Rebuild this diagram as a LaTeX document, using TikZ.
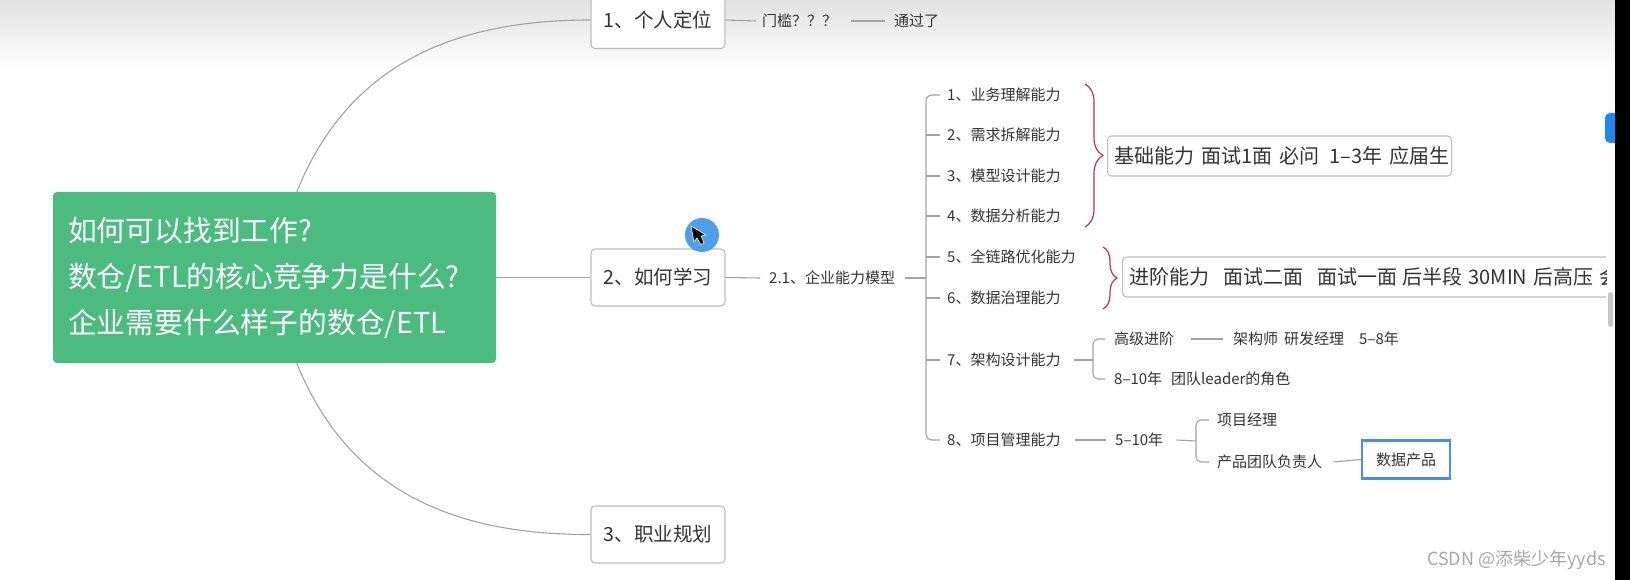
\documentclass[tikz,border=0pt]{standalone}
\usepackage{fontspec}
\setmainfont{Noto Sans CJK SC}
\usetikzlibrary{decorations.pathreplacing,calc}
\definecolor{txt}{HTML}{333333}
\definecolor{lnk}{HTML}{A3A3A3}
\definecolor{bord}{HTML}{BEBEBE}
\definecolor{rootg}{HTML}{4BBB80}
\definecolor{bracered}{HTML}{B3373C}
\definecolor{selb}{HTML}{4A90E2}
\definecolor{curb}{HTML}{4D9FEA}
\definecolor{btnb}{HTML}{1E88F0}
\definecolor{wm}{HTML}{A8A8A8}
\definecolor{topg}{HTML}{E2E2E2}
\begin{document}
\begin{tikzpicture}[x=1pt,y=-1pt,
  topic/.style={draw=bord, line width=1.1pt, fill=white, rounded corners=4pt,
    minimum width=134pt, minimum height=57pt, inner sep=0pt, text=txt,
    font=\fontsize{19.5}{23}\selectfont},
  lbl/.style={anchor=west, inner sep=0pt, text=txt, font=\fontsize{15}{18}\selectfont},
  conn/.style={draw=lnk, line width=1.1pt},
  braceline/.style={draw=bracered, line width=1.2pt, decorate},
  infobox/.style={draw=bord, line width=1.1pt, fill=white, rounded corners=4pt,
    anchor=west, minimum height=40pt, inner xsep=7pt, inner ysep=0pt, align=left,
    text=txt, font=\fontsize{20}{23}\selectfont}
]
\useasboundingbox (0,0) rectangle (1630,580);
\fill[white] (0,0) rectangle (1630,580);
\shade[top color=topg, bottom color=white] (0,0) rectangle (1630,70);

% main topics
\node[topic] (n1) at (658,20) {1、个人定位};
\node[topic] (n2) at (658,277.5) {2、如何学习};
\node[topic] (n3) at (658,534.5) {3、职业规划};
\node[fill=rootg, rounded corners=4pt, minimum width=443pt, minimum height=171pt,
  text width=413pt, align=left, inner xsep=15pt, inner ysep=0pt, text=white,
  font=\fontsize{28.8}{46}\selectfont] (root) at (274.5,277.5)
  {如何可以找到工作?\\数仓/ETL的核心竞争力是什么?\\企业需要什么样子的数仓/ETL};

\coordinate (rt) at ($(root.north west)+(244,0)$);
\coordinate (rb) at ($(root.south west)+(244,0)$);
\draw[conn] (rt) .. controls (350,60) and (460,20) .. (n1.west);
\draw[conn] (root.east) -- (n2.west);
\draw[conn] (rb) .. controls (350,495) and (460,535) .. (n3.west);

% topic 1
\node[lbl] (gate) at (762,21) {门槛？？？};
\node[lbl] (pass) at (894,21) {通过了};
\draw[conn] (n1.east) -- ($(gate.west)+(-6,0)$);
\draw[conn] ($(gate.east)+(14,0)$) -- ($(pass.west)+(-9,0)$);

% topic 2
\node[lbl] (m21) at (769,278) {2.1、企业能力模型};
\draw[conn] (n2.east) -- ($(m21.west)+(-9,0)$);
\coordinate (bk) at (926,278);
\draw[conn] ($(m21.east)+(10,0)$) -- (bk);

\node[lbl] (c1) at (947,95) {1、业务理解能力};
\node[lbl] (c2) at (947,135) {2、需求拆解能力};
\node[lbl] (c3) at (947,176) {3、模型设计能力};
\node[lbl] (c4) at (947,216) {4、数据分析能力};
\node[lbl] (c5) at (947,257) {5、全链路优化能力};
\node[lbl] (c6) at (947,298) {6、数据治理能力};
\node[lbl] (c7) at (947,360) {7、架构设计能力};
\node[lbl] (c8) at (947,440) {8、项目管理能力};
\draw[conn, rounded corners=6pt] ($(c1.west)+(-7,0)$) -- (bk |- c1.west) -- (bk |- c8.west) -- ($(c8.west)+(-7,0)$);
\foreach \c in {c2,c3,c4,c5,c6,c7}
  \draw[conn] (bk |- \c.west) -- ($(\c.west)+(-7,0)$);

% summaries
\node[infobox, text width=330pt] (b1) at (1107,156)
  {\mbox{基础能力\hspace{7pt}面试1面\hspace{7pt}必问\hspace{10pt}1–3年\hspace{7pt}应届生}};
\draw[braceline, decoration={brace, amplitude=18pt}] ($(b1.west)+(-22,-72)$) -- ($(b1.west)+(-22,71)$);

\begin{scope}
\clip (0,0) rectangle (1606,580);
\node[infobox, text width=540pt] (b2) at (1122,277)
  {\mbox{进阶能力\hspace{14pt}面试二面\hspace{14pt}面试一面\hspace{5pt}后半段\hspace{6pt}30MIN\hspace{6pt}后高压\hspace{6pt}会}};
\end{scope}
\draw[braceline, decoration={brace, amplitude=14pt}] ($(b2.west)+(-19,-30)$) -- ($(b2.west)+(-19,32)$);

% item 7
\node[lbl] (h1) at (1114,339) {高级进阶};
\node[lbl] (h2) at (1233,339) {架构师\hspace{6pt}研发经理\hspace{15pt}5–8年};
\node[lbl] (h3) at (1114,379) {8–10年\hspace{9pt}团队leader的角色};
\coordinate (bk7) at (1093,360);
\draw[conn] ($(c7.east)+(13,0)$) -- (bk7);
\draw[conn, rounded corners=5pt] ($(h1.west)+(-9,0)$) -- (bk7 |- h1.west) -- (bk7 |- h3.west) -- ($(h3.west)+(-9,0)$);
\draw[conn] ($(h1.east)+(17,0)$) -- ($(h2.west)+(-10,0)$);

% item 8
\node[lbl] (y5) at (1115,440) {5–10年};
\draw[conn] ($(c8.east)+(14,0)$) -- ($(y5.west)+(-9,0)$);
\coordinate (bk8) at (1196,441);
\draw[conn] ($(y5.east)+(13,0)$) -- (bk8);
\node[lbl] (pm) at (1217,420) {项目经理};
\node[lbl] (pt) at (1217,462) {产品团队负责人};
\draw[conn, rounded corners=5pt] ($(pm.west)+(-8,0)$) -- (bk8 |- pm.west) -- (bk8 |- pt.west) -- ($(pt.west)+(-8,0)$);
\node[draw=selb, line width=2.2pt, fill=white, minimum width=88pt, minimum height=38pt,
  inner sep=0pt, text=txt, font=\fontsize{15}{18}\selectfont] (dp) at (1406,459.5) {数据产品};
\draw[conn] ($(pt.east)+(11,0)$) -- (dp.west);

% screen decorations
\fill[curb] (702,235) circle (17);
\filldraw[fill=black, draw=white, line width=0.6pt] (691,226) -- (694,242) -- (697,238) -- (701,245) -- (704,243) -- (701,236) -- (706,235) -- cycle;
\node[anchor=west, inner sep=0pt, text=wm, font=\fontsize{18}{20}\selectfont] (wmk) at (1427,560) {CSDN @添柴少年yyds};
\fill[btnb, rounded corners=5pt] (1605,113) rectangle (1625,143);
\fill[gray!45, rounded corners=2.5pt] (1608,292) rectangle (1613,327);
\fill[black] (1615,0) rectangle (1630,580);
\end{tikzpicture}
\end{document}
